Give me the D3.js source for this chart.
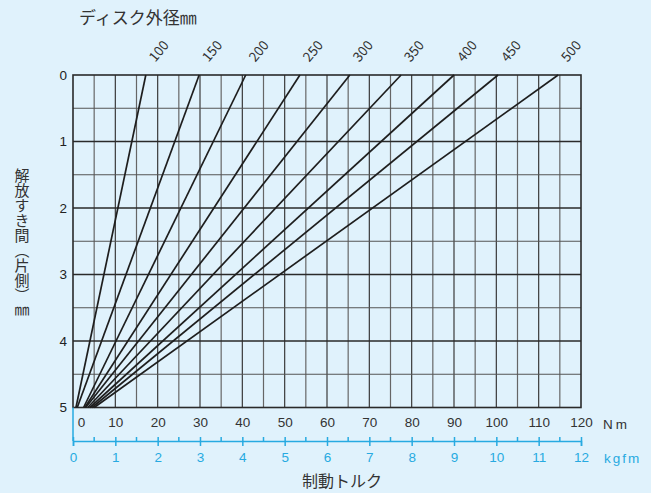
<!DOCTYPE html>
<html>
<head>
<meta charset="utf-8">
<script src="https://cdn.jsdelivr.net/npm/d3@7"></script>
<style>
  body { margin: 0; background: #e0f2fc; }
  svg { display: block; font-family: "Noto Sans CJK JP", "Noto Sans", sans-serif; }
</style>
</head>
<body>
<svg id="chart" width="651" height="493"></svg>
<script>
"use strict";

// disc outer diameters (mm) and where each line meets the bottom (gap 5) and top (gap 0), in Nm
var diameters = [100, 150, 200, 250, 300, 350, 400, 450, 500];
var torqueAtBottom = [0.7, 1.0, 2.5, 2.8, 3.0, 3.5, 4.0, 4.5, 5.0];
var torqueAtTop = [17.2, 29.8, 40.8, 53.6, 65.4, 77.5, 90.0, 100.4, 114.6];

// tick labels
var nmTicks = [0, 10, 20, 30, 40, 50, 60, 70, 80, 90, 100, 110, 120];
var kgfmTicks = [0, 1, 2, 3, 4, 5, 6, 7, 8, 9, 10, 11, 12];
var kgfmMinor = [0.5, 1.5, 2.5, 3.5, 4.5, 5.5, 6.5, 7.5, 8.5, 9.5, 10.5, 11.5];
var gapTicks = [0, 1, 2, 3, 4, 5];
var gridNm = [5, 10, 15, 20, 25, 30, 35, 40, 45, 50, 55, 60, 65, 70, 75, 80, 85, 90, 95, 100, 105, 110, 115];
var gridGap = [0.5, 1, 1.5, 2, 2.5, 3, 3.5, 4, 4.5];

var blue = "#27aae1";
var ink = "#333";

var svg = d3.select("#chart");

// plot box
var plotLeft = 73, plotRight = 581, plotTop = 75, plotBottom = 407.5;

var x = d3.scaleLinear().domain([0, 120]).range([plotLeft, plotRight]);
var xk = d3.scaleLinear().domain([0, 12]).range([plotLeft, plotRight]);
var y = d3.scaleLinear().domain([0, 5]).range([plotTop, plotBottom]);

// grid
var grid = svg.append("g");
grid.selectAll(".gx").data(gridNm).enter().append("line")
    .attr("x1", function(d){ return x(d); })
    .attr("x2", function(d){ return x(d); })
    .attr("y1", plotTop).attr("y2", plotBottom)
    .attr("stroke", function(d){ return d % 10 == 0 ? "#3a3a3a" : "#666"; })
    .attr("stroke-width", 1.2);
grid.selectAll(".gy").data(gridGap).enter().append("line")
    .attr("x1", plotLeft).attr("x2", plotRight)
    .attr("y1", function(d){ return y(d); })
    .attr("y2", function(d){ return y(d); })
    .attr("stroke", function(d){ return d % 1 == 0 ? "#2a2a2a" : "#555"; })
    .attr("stroke-width", function(d){ return d % 1 == 0 ? 1.6 : 1.1; });

svg.append("rect")
    .attr("x", plotLeft).attr("y", plotTop)
    .attr("width", plotRight - plotLeft).attr("height", plotBottom - plotTop)
    .attr("fill", "none").attr("stroke", "#2a2a2a").attr("stroke-width", 1.6);

// diameter lines
var lines = diameters.map(function(d, i){
    return { d: d, t0: torqueAtBottom[i], t1: torqueAtTop[i] };
});
svg.append("g").selectAll("line").data(lines).enter().append("line")
    .attr("x1", function(d){ return x(d.t0); })
    .attr("y1", y(5))
    .attr("x2", function(d){ return x(d.t1); })
    .attr("y2", y(0))
    .attr("stroke", "#1e1e1e")
    .attr("stroke-width", 1.7);

// rotated diameter labels
svg.append("g").selectAll("text").data(lines).enter().append("text")
    .attr("transform", function(d){ return "translate(" + (x(d.t1) + 13) + ",51) rotate(-50)"; })
    .attr("text-anchor", "middle")
    .attr("dy", "0.35em")
    .attr("font-size", 13.5)
    .attr("fill", ink)
    .text(function(d){ return d.d; });

// title
svg.append("text")
    .attr("x", 79).attr("y", 24)
    .attr("font-size", 17)
    .attr("fill", ink)
    .text("ディスク外径㎜");

// left axis (gap)
var yAxis = svg.append("g")
    .attr("transform", "translate(" + plotLeft + ",0)")
    .call(d3.axisLeft(y).tickValues(gapTicks).tickFormat(d3.format("d")).tickSize(0).tickPadding(6));
yAxis.select(".domain").remove();
yAxis.selectAll("text").attr("font-size", 13.5).attr("fill", "#222")
    .attr("font-family", "Liberation Sans, Arial, sans-serif");

// left axis title, vertical
svg.append("text")
    .attr("x", 22).attr("y", 168)
    .attr("font-size", 15)
    .attr("fill", ink)
    .style("writing-mode", "vertical-rl")
    .text("解放すき間（片側）㎜");

// Nm axis
var nmAxis = svg.append("g")
    .attr("transform", "translate(0," + (plotBottom + 10) + ")")
    .call(d3.axisBottom(x).tickValues(nmTicks).tickSize(0).tickPadding(0));
nmAxis.select(".domain").remove();
nmAxis.selectAll("text").attr("font-size", 13.5).attr("fill", ink)
    .attr("font-family", "Liberation Sans, Arial, sans-serif")
    .attr("dx", function(d){ return d == 0 ? 8 : 0; });
svg.append("text")
    .attr("x", 603).attr("y", 429)
    .attr("font-size", 13.5).attr("fill", ink)
    .attr("font-family", "Liberation Sans, Arial, sans-serif")
    .style("letter-spacing", "3px")
    .text("Nm");

// kgfm axis
var kY = 441;
svg.append("line")
    .attr("x1", plotLeft).attr("x2", plotLeft)
    .attr("y1", plotBottom).attr("y2", kY)
    .attr("stroke", blue).attr("stroke-width", 1.5);
var kAxis = svg.append("g")
    .attr("transform", "translate(0," + kY + ")")
    .call(d3.axisBottom(xk).tickValues(kgfmTicks).tickSize(5).tickPadding(6));
kAxis.select(".domain").attr("stroke", blue).attr("stroke-width", 1.5);
kAxis.selectAll(".tick line").attr("stroke", blue).attr("stroke-width", 1.5).attr("y1", -4);
kAxis.selectAll("text").attr("font-size", 13.5).attr("fill", blue)
    .attr("font-family", "Liberation Sans, Arial, sans-serif");
svg.append("g").selectAll("line").data(kgfmMinor).enter().append("line")
    .attr("x1", function(d){ return xk(d); })
    .attr("x2", function(d){ return xk(d); })
    .attr("y1", kY - 4).attr("y2", kY)
    .attr("stroke", blue).attr("stroke-width", 1.5);
svg.append("text")
    .attr("x", 604).attr("y", 463)
    .attr("font-size", 13.5).attr("fill", blue)
    .attr("font-family", "Liberation Sans, Arial, sans-serif")
    .style("letter-spacing", "2px")
    .text("kgfm");

// bottom title
svg.append("text")
    .attr("x", 342).attr("y", 487)
    .attr("text-anchor", "middle")
    .attr("font-size", 16)
    .attr("fill", ink)
    .text("制動トルク");
</script>
</body>
</html>
